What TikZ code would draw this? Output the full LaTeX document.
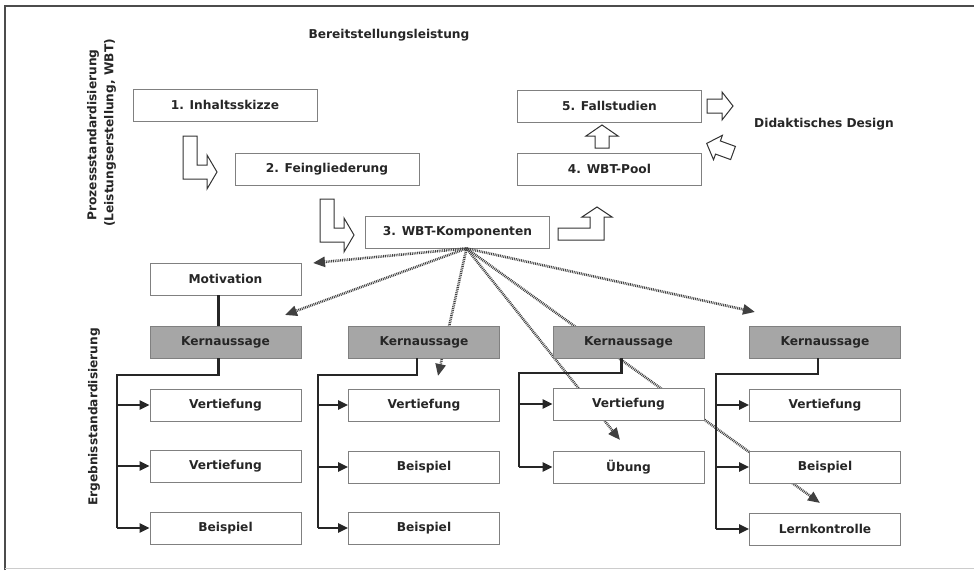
\documentclass[tikz,border=0pt]{standalone}
\usepackage{fontspec}
\setmainfont{DejaVu Sans}
\usetikzlibrary{arrows.meta}
\begin{document}
\begin{tikzpicture}[x=1pt,y=-1pt,
  lbl/.style={inner sep=0pt, font=\bfseries\fontsize{12.2}{14}\selectfont, text=black!85},
  bigbox/.style={draw=black!50, line width=0.8pt, fill=white, minimum width=184pt, minimum height=32pt, inner sep=0pt, font=\bfseries\fontsize{12.2}{14}\selectfont, text=black!85},
  smallbox/.style={bigbox, minimum width=151pt},
  grey/.style={smallbox, fill=black!35},
  tree/.style={draw=black!85, line width=2.2pt},
  treearrow/.style={tree, -{Triangle[length=10pt,width=9pt]}},
  dots/.style={draw=black!75, line width=2.6pt, dash pattern=on 0.9pt off 0.9pt, -{Triangle[length=12pt,width=10pt]}},
  barrow/.style={draw=black!80, line width=1pt, fill=white, line join=miter}
]
\useasboundingbox (0,0) rectangle (974,570);
% frame
\draw[black!70, line width=1.2pt] (5,570) -- (5,6) -- (974,6);
\draw[black!20, line width=1pt] (5,568) -- (974,568);

% titles
\node[lbl] (title) at (389,35) {Bereitstellungsleistung};
\node[lbl] (dd) at (824,124) {Didaktisches Design};
\node[lbl, rotate=90] (p1) at (93,135) {Prozessstandardisierung};
\node[lbl, rotate=90] (p2) at (110,133) {(Leistungserstellung, WBT)};
\node[lbl, rotate=90] (e1) at (94,417) {Ergebnisstandardisierung};

% upper boxes
\node[bigbox] (b1) at (225,105) {1. Inhaltsskizze};
\node[bigbox] (b2) at (327,169) {2. Feingliederung};
\node[bigbox] (b3) at (457.5,232) {3. WBT-Komponenten};
\node[bigbox] (b5) at (609.5,106) {5. Fallstudien};
\node[bigbox] (b4) at (609.5,169) {4. WBT-Pool};

% block arrows
\draw[barrow] (183,136) -- (197,136) -- (197,165) -- (207,165) -- (207,155) -- (217,172) -- (207,189) -- (207,179) -- (183,179) -- cycle;
\draw[barrow] (320,199) -- (334,199) -- (334,228) -- (344,228) -- (344,218) -- (354,235) -- (344,252) -- (344,242) -- (320,242) -- cycle;
\draw[barrow] (558,228) -- (590,228) -- (590,217) -- (582,217) -- (597,207) -- (612,217) -- (604,217) -- (604,240) -- (558,240) -- cycle;
\draw[barrow] (595,148) -- (595,136) -- (586,136) -- (602,125) -- (618,136) -- (609,136) -- (609,148) -- cycle;
\draw[barrow] (707,99) -- (722,99) -- (722,92) -- (733,106) -- (722,120) -- (722,113) -- (707,113) -- cycle;
\begin{scope}[shift={(733,153)}, rotate=160]
\draw[barrow] (0,-7) -- (16,-7) -- (16,-13) -- (28,0) -- (16,13) -- (16,7) -- (0,7) -- cycle;
\end{scope}

% dotted connectors
\coordinate (o) at ([xshift=9pt]b3.south);
\coordinate (t1) at (313,263);
\coordinate (t2) at (285,315);
\coordinate (t3) at (438,376);
\coordinate (t4) at (620,440);
\coordinate (t5) at (820,503);
\coordinate (t6) at (755,312);
\draw[dots] (o) -- (t1);
\draw[dots] (o) -- (t2);
\draw[dots] (o) -- (t3);
\draw[dots] (o) -- (t4);
\draw[dots] (o) -- (t5);
\draw[dots] (o) -- (t6);

% lower boxes
\node[smallbox] (mot) at (225.5,279) {Motivation};
\node[grey] (k1) at (225.5,342) {Kernaussage};
\node[smallbox] (v11) at (225.5,405) {Vertiefung};
\node[smallbox] (v12) at (225.5,466) {Vertiefung};
\node[smallbox] (b13) at (225.5,528) {Beispiel};

\node[grey] (k2) at (424,342) {Kernaussage};
\node[smallbox] (v21) at (424,405) {Vertiefung};
\node[smallbox] (b22) at (424,467) {Beispiel};
\node[smallbox] (b23) at (424,528) {Beispiel};

\node[grey] (k3) at (628.5,342) {Kernaussage};
\node[smallbox] (v31) at (628.5,404) {Vertiefung};
\node[smallbox] (u32) at (628.5,467) {Übung};

\node[grey] (k4) at (825,342) {Kernaussage};
\node[smallbox] (v41) at (825,405) {Vertiefung};
\node[smallbox] (b42) at (825,467) {Beispiel};
\node[smallbox] (l43) at (825,529) {Lernkontrolle};

% trees
\draw[tree] ([xshift=-7pt]mot.south) -- ([xshift=-7pt]k1.north);
\coordinate (bus1) at (117,375);
\draw[tree] ([xshift=-7pt]k1.south) |- (bus1) -- (bus1 |- b13.west);
\draw[treearrow] (bus1 |- v11.west) -- (v11.west);
\draw[treearrow] (bus1 |- v12.west) -- (v12.west);
\draw[treearrow] (bus1 |- b13.west) -- (b13.west);

\coordinate (bus2) at (318,375);
\draw[tree] ([xshift=-7pt]k2.south) |- (bus2) -- (bus2 |- b23.west);
\draw[treearrow] (bus2 |- v21.west) -- (v21.west);
\draw[treearrow] (bus2 |- b22.west) -- (b22.west);
\draw[treearrow] (bus2 |- b23.west) -- (b23.west);

\coordinate (bus3) at (519,373);
\draw[tree] ([xshift=-7pt]k3.south) |- (bus3) -- (bus3 |- u32.west);
\draw[treearrow] (bus3 |- v31.west) -- (v31.west);
\draw[treearrow] (bus3 |- u32.west) -- (u32.west);

\coordinate (bus4) at (716,374);
\draw[tree] ([xshift=-7pt]k4.south) |- (bus4) -- (bus4 |- l43.west);
\draw[treearrow] (bus4 |- v41.west) -- (v41.west);
\draw[treearrow] (bus4 |- b42.west) -- (b42.west);
\draw[treearrow] (bus4 |- l43.west) -- (l43.west);
\end{tikzpicture}
\end{document}
